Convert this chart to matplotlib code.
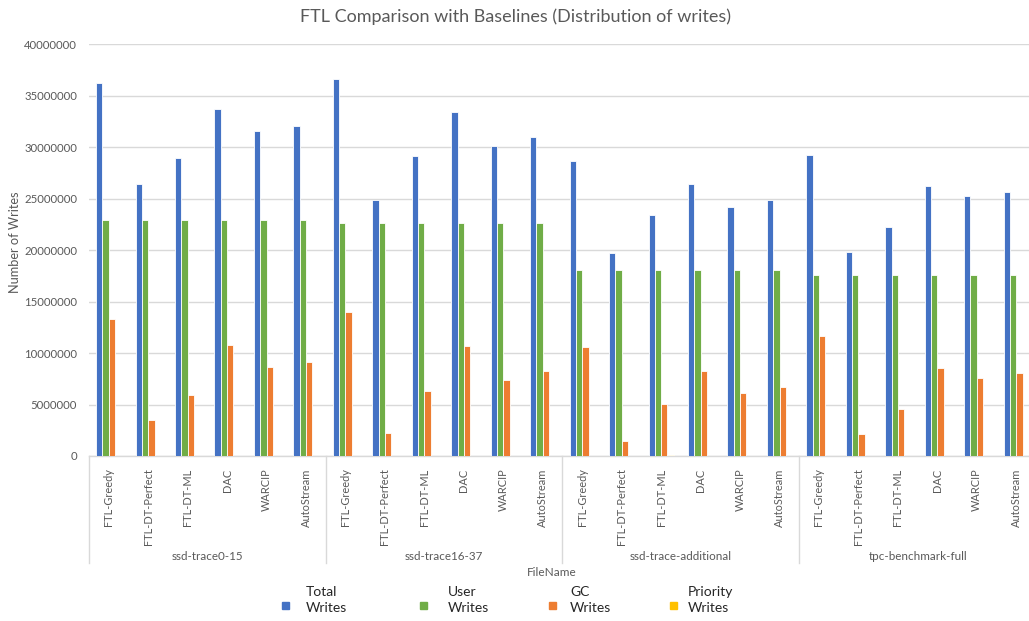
import matplotlib
matplotlib.use("Agg")
import matplotlib.pyplot as plt
from matplotlib.patches import Rectangle
from matplotlib.ticker import FixedLocator
import numpy as np

plt.rcParams["font.family"] = ["Lato", "DejaVu Sans"]

groups = ["ssd-trace0-15", "ssd-trace16-37", "ssd-trace-additional", "tpc-benchmark-full"]
methods = ["FTL-Greedy", "FTL-DT-Perfect", "FTL-DT-ML", "DAC", "WARCIP", "AutoStream"]

total_writes = [
    36250000, 26400000, 28930000, 33690000, 31550000, 32070000,
    36630000, 24890000, 29090000, 33370000, 30100000, 30970000,
    28670000, 19680000, 23400000, 26410000, 24210000, 24890000,
    29220000, 19770000, 22200000, 26180000, 25240000, 25660000,
]
user_writes = [22880000] * 6 + [22620000] * 6 + [18090000] * 6 + [17570000] * 6
gc_writes = [
    13330000, 3460000, 5890000, 10740000, 8640000, 9160000,
    13950000, 2200000, 6310000, 10650000, 7410000, 8280000,
    10550000, 1460000, 5080000, 8280000, 6080000, 6730000,
    11620000, 2100000, 4530000, 8510000, 7610000, 8060000,
]
priority_writes = [0] * 12 + [0, 20000, 120000, 0, 0, 0] + [0] * 6

series_labels = ["Total\nWrites", "User\nWrites", "GC\nWrites", "Priority\nWrites"]
series_colors = ["#4472C4", "#70AD47", "#ED7D31", "#FFC000"]
yticks = [0, 5000000, 10000000, 15000000, 20000000, 25000000, 30000000, 35000000, 40000000]

W, H = 1029, 621
fig = plt.figure(figsize=(W / 100, H / 100), dpi=100)
ax = fig.add_axes([89 / W, 1 - 456 / H, 947 / W, 412 / H])

grey = "#595959"
n_cat = len(groups) * len(methods)
x = np.arange(n_cat)
bw = 0.16
series = [total_writes, user_writes, gc_writes, priority_writes]
for i, (vals, col) in enumerate(zip(series, series_colors)):
    ax.bar(x + (i - 1.5) * bw, vals, width=bw, color=col,
           edgecolor="white", linewidth=0.6, zorder=3)

ax.set_xlim(-0.5, n_cat - 0.5)
ax.set_ylim(0, 40000000)
ax.yaxis.set_major_locator(FixedLocator(yticks))
ax.set_yticklabels([str(v) for v in yticks])
ax.grid(axis="y", color="#D9D9D9", linewidth=1.0, zorder=0)
for s in ["top", "right", "left"]:
    ax.spines[s].set_visible(False)
ax.spines["bottom"].set_color("#D9D9D9")
ax.spines["bottom"].set_linewidth(1.0)
ax.tick_params(axis="y", length=0, labelsize=8.2, labelcolor=grey, pad=8.6)
ax.tick_params(axis="x", length=0, labelsize=7.9, labelcolor=grey, pad=9)

ax.set_xticks(x)
ax.set_xticklabels(methods * len(groups), rotation=90)

# group level of the category axis
trans = ax.get_xaxis_transform()
ng = len(methods)
for g, name in enumerate(groups):
    ax.text(g * ng + (ng - 1) / 2, -0.245, name, transform=trans,
            ha="center", va="center", fontsize=8.4, color=grey)
for b in range(len(groups) + 1):
    ax.plot([b * ng - 0.5] * 2, [0, -0.26], transform=trans, color="#D9D9D9",
            linewidth=1.0, clip_on=False)

ax.set_ylabel("Number of Writes", fontsize=9.2, color=grey)
ax.yaxis.set_label_coords(-68 / 947, 0.52)

fig.text(515 / W, 1 - 17 / H, "FTL Comparison with Baselines (Distribution of writes)",
         ha="center", va="center", fontsize=13, color=grey)
fig.text(552 / W, 1 - 573 / H, "FileName", ha="center", va="center",
         fontsize=8.5, color=grey)

# legend
marker_x = [282, 420, 549, 670]
text_x = [306, 448, 570, 688]
for lbl, col, mx, tx in zip(series_labels, series_colors, marker_x, text_x):
    fig.patches.append(Rectangle((mx / W, 1 - 609 / H), 7 / W, 7 / H,
                                 transform=fig.transFigure, color=col))
    fig.text(tx / W, 1 - 600 / H, lbl, ha="left", va="center", fontsize=10,
             color="#262626", linespacing=1.45)

fig.savefig("out.png", dpi=100)
